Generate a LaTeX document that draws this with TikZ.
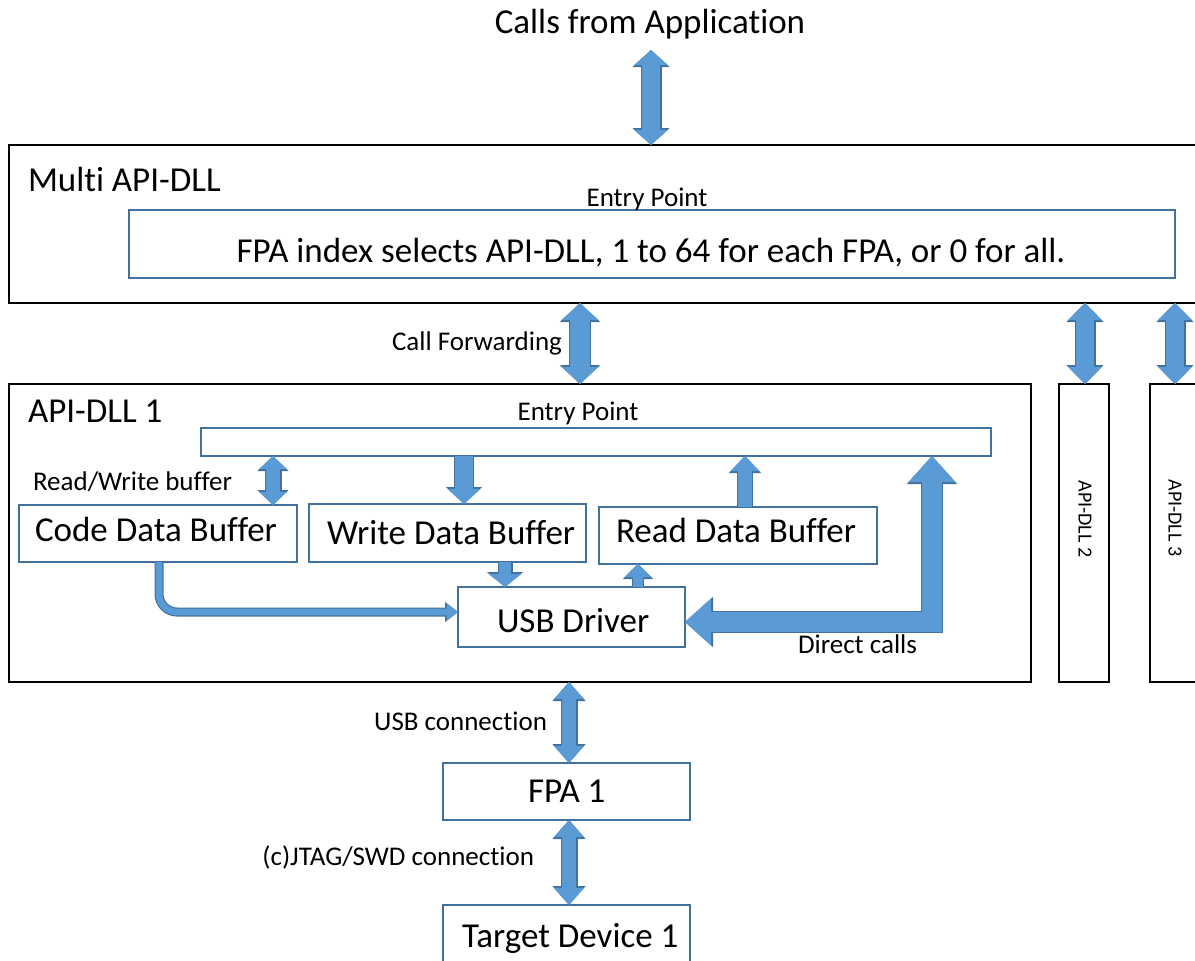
\documentclass[tikz,border=0pt]{standalone}
\usepackage{fontspec}
\setmainfont{Carlito}[Ligatures=CommonOff]
\usetikzlibrary{arrows.meta}
\definecolor{afill}{RGB}{91,155,213}
\definecolor{aline}{RGB}{65,113,156}
\newcommand\fbig{\fontsize{35}{40}\selectfont}
\newcommand\fmid{\fontsize{27}{32}\selectfont}
\newcommand\fsml{\fontsize{20}{24}\selectfont}
% #1 arrow spec/options, #2 shaft width, #3 head width, #4 head length, #5 path
\newcommand\blockarrow[5]{%
  \pgfmathsetmacro\baIn{#2-2.4}%
  \pgfmathsetmacro\baW{#3-2.8}%
  \pgfmathsetmacro\baL{#4-1.8}%
  \draw[draw=aline, line width=#2pt, >={Triangle[width=#3pt 0, length=#4pt 0, line width=1.2pt 0, color=aline, fill=aline]}, #1] #5;
  \draw[draw=afill, line width=\baIn pt, >={Triangle[width=\baW pt 0, length=\baL pt 0, line width=0pt 0, color=afill, fill=afill]}, #1] #5;
}
\begin{document}
\begin{tikzpicture}[x=1pt, y=-1pt,
  every node/.style={inner sep=0pt, outer sep=0pt},
  box/.style={draw=black, line width=2.5pt},
  ibox/.style={draw=aline, line width=2pt},
  txt/.style={anchor=base west},
  ctxt/.style={anchor=base},
  rtxt/.style={anchor=base east}]
\useasboundingbox (0,0) rectangle (1195,961);
\clip (0,0) rectangle (1195,961);
\fill[white] (0,0) rectangle (1195,961);

% boxes
\node[box, minimum width=1191pt, minimum height=158pt] (multi) at (604.5,224) {};
\node[ibox, minimum width=1046pt, minimum height=68pt] (entry1) at (652,244) {};
\node[box, minimum width=1022pt, minimum height=298pt] (api1) at (520,533) {};
\node[ibox, minimum width=790pt, minimum height=28pt] (entry2) at (596,442) {};
\node[ibox, minimum width=278pt, minimum height=57pt] (code) at (158,533.5) {};
\node[ibox, minimum width=277pt, minimum height=58pt] (write) at (447.5,533) {};
\node[ibox, minimum width=278pt, minimum height=57pt] (read) at (738,535.5) {};
\node[ibox, minimum width=227pt, minimum height=60pt] (usb) at (571.5,617) {};
\node[box, minimum width=50pt, minimum height=298pt] (api2) at (1084,533) {};
\node[box, minimum width=50pt, minimum height=298pt] (api3) at (1175,533) {};
\node[ibox, minimum width=247pt, minimum height=57pt] (fpa) at (566.5,791.5) {};
\node[ibox, minimum width=247pt, minimum height=70pt] (target) at (566.5,940) {};

% texts
\node[ctxt, font=\fbig] (title) at (650,33) {Calls from Application};
\node[txt, font=\fbig] (multiLbl) at (28,191) {Multi API-DLL};
\node[ctxt, font=\fmid] (ep1) at (647,206) {Entry Point};
\node[ctxt, font=\fbig] (fpaidx) at (651,262) {FPA index selects API-DLL, 1 to 64 for each FPA, or 0 for all.};
\node[rtxt, font=\fmid] (cfLbl) at (562,350) {Call Forwarding};
\node[txt, font=\fbig] (api1Lbl) at (28,422) {API-DLL 1};
\node[ctxt, font=\fmid] (ep2) at (578,420) {Entry Point};
\node[txt, font=\fmid] (rwLbl) at (33,490) {Read/Write buffer};
\node[txt, font=\fbig] (codeTxt) at (35,541) {Code Data Buffer};
\node[txt, font=\fbig] (writeTxt) at (327,544) {Write Data Buffer};
\node[txt, font=\fbig] (readTxt) at (616,542) {Read Data Buffer};
\node[txt, font=\fbig] (usbTxt) at (497,632) {USB Driver};
\node[txt, font=\fmid] (dcLbl) at (798,653) {Direct calls};
\node[font=\fsml, rotate=-90] (api2Lbl) at (1085,519) {API-DLL 2};
\node[font=\fsml, rotate=-90] (api3Lbl) at (1175,518) {API-DLL 3};
\node[rtxt, font=\fmid] (usbcLbl) at (547,730) {USB connection};
\node[rtxt, font=\fmid] (jtagLbl) at (534,865) {(c)JTAG/SWD connection};
\node[txt, font=\fbig] (fpaTxt) at (528,802) {FPA 1};
\node[txt, font=\fbig] (tgtTxt) at (462,947) {Target Device 1};

% helper coordinates
\coordinate (apptop) at (651,50);
\coordinate (cfx) at (580,0);
\coordinate (a2x) at (1085,0);
\coordinate (a3x) at (1175,0);
\coordinate (cdx) at (273,0);
\coordinate (wdx) at (464,0);
\coordinate (rdx) at (745,0);
\coordinate (wux) at (505,0);
\coordinate (urx) at (638,0);
\coordinate (cux) at (159,612);
\coordinate (dcx) at (932,622);
\coordinate (ucx) at (569,0);

% arrows
\blockarrow{<->}{21}{37}{17}{(apptop) -- (apptop |- multi.north)}
\blockarrow{<->}{22}{40}{19}{(cfx |- multi.south) -- (cfx |- api1.north)}
\blockarrow{<->}{21}{37}{19}{(a2x |- multi.south) -- (a2x |- api2.north)}
\blockarrow{<->}{21}{37}{19}{(a3x |- multi.south) -- (a3x |- api3.north)}
\blockarrow{<->}{17}{31}{15}{(cdx |- entry2.south) -- (cdx |- code.north)}
\blockarrow{->}{20}{36}{17}{(wdx |- entry2.south) -- (wdx |- write.north)}
\blockarrow{->}{16}{32}{17}{(rdx |- read.north) -- (rdx |- entry2.south)}
\blockarrow{->}{15}{36}{15}{(wux |- write.south) -- (wux |- usb.north)}
\blockarrow{->}{12}{30}{15}{(urx |- usb.north) -- (urx |- read.south)}
\blockarrow{->, rounded corners=18pt}{9}{20}{13}{(cux |- code.south) -- (cux) -- (usb.west |- cux)}
\blockarrow{<->}{22}{50}{28}{(usb.east |- dcx) -- (dcx) -- (dcx |- entry2.south)}
\blockarrow{<->}{17}{33}{19}{(ucx |- api1.south) -- (ucx |- fpa.north)}
\blockarrow{<->}{17}{33}{19}{(ucx |- fpa.south) -- (ucx |- target.north)}
\end{tikzpicture}
\end{document}
